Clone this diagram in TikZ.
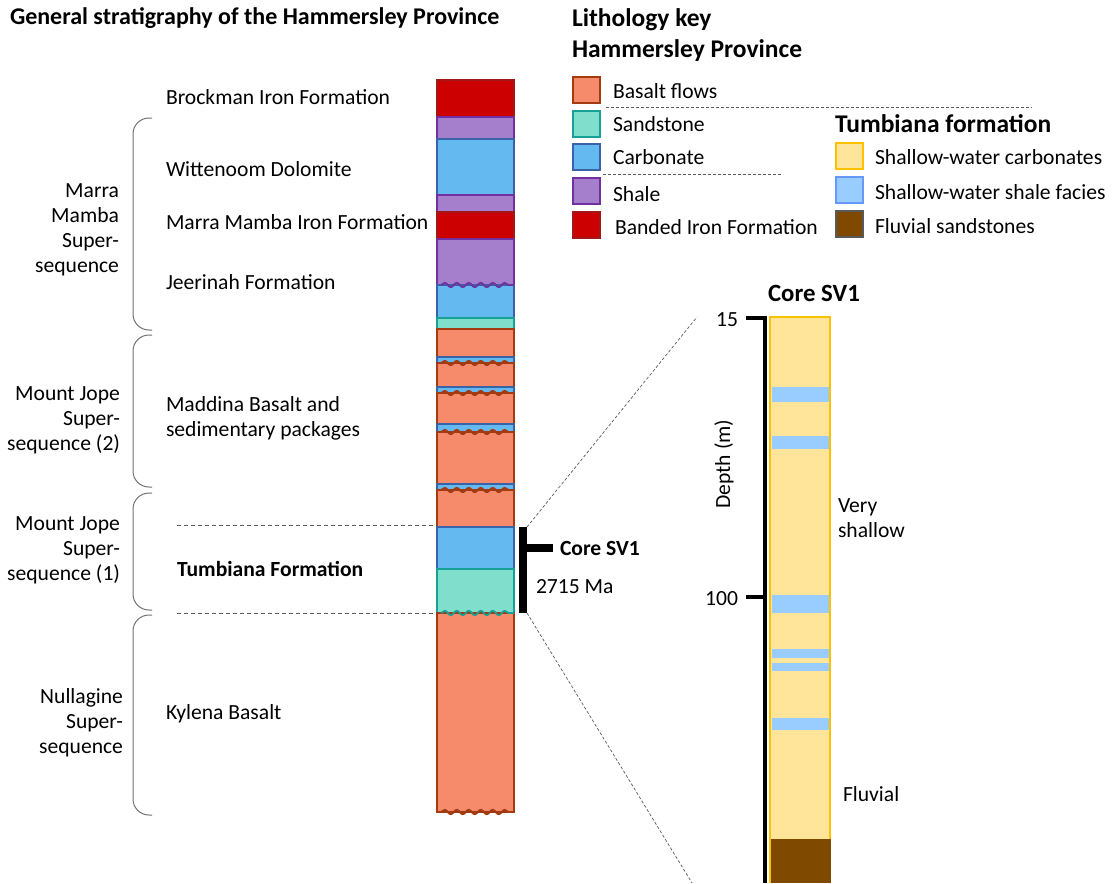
\documentclass[tikz,border=0pt]{standalone}
\usepackage{fontspec}
\setmainfont{Carlito}
\usetikzlibrary{decorations.pathmorphing}
\definecolor{basF}{HTML}{F58B6B}
\definecolor{basD}{HTML}{A33A12}
\definecolor{sanF}{HTML}{80DFCC}
\definecolor{sanD}{HTML}{17A095}
\definecolor{carF}{HTML}{64B9F0}
\definecolor{carD}{HTML}{3A62A6}
\definecolor{shaF}{HTML}{A67FCC}
\definecolor{shaD}{HTML}{70309F}
\definecolor{bifF}{HTML}{CC0000}
\definecolor{bifD}{HTML}{A01818}
\definecolor{swcF}{HTML}{FFE599}
\definecolor{swcD}{HTML}{FFC000}
\definecolor{swsF}{HTML}{99CCFF}
\definecolor{swsD}{HTML}{6699FF}
\definecolor{fluF}{HTML}{7F4A00}
\definecolor{fluD}{HTML}{595959}
\definecolor{braceC}{HTML}{707070}
\newcommand\stratlayer[4]{\node[#2, anchor=north west, minimum width=77pt, minimum height={(#4-#3)*1pt}] (#1) at (437,#3) {};}
\newcommand\wavyline[2]{\draw[wavy, draw=#1] (441,#2) -- (514,#2);}
\newcommand\keybox[4]{\node[keysq, #2, anchor=north west] (#1) at (#3,#4) {};}
\tikzset{
  lay/.style={draw, inner sep=0pt, outer sep=0pt, line width=1.3pt},
  basalt/.style={lay, fill=basF, draw=basD},
  sandst/.style={lay, fill=sanF, draw=sanD},
  carb/.style={lay, fill=carF, draw=carD},
  shale/.style={lay, fill=shaF, draw=shaD},
  bif/.style={lay, fill=bifF, draw=bifD},
  swc/.style={lay, fill=swcF, draw=swcD},
  sws/.style={lay, fill=swsF, draw=swsD},
  flu/.style={lay, fill=fluF, draw=fluD},
  keysq/.style={minimum width=27pt, minimum height=26pt, line width=1.5pt},
  wavy/.style={line width=1.8pt, decorate, decoration={snake, amplitude=2.2pt, segment length=12pt}},
  txt/.style={inner sep=0pt, outer sep=0pt, font=\fontsize{21.6}{25}\selectfont},
  btxt/.style={txt, font=\fontsize{21.6}{25}\selectfont\bfseries},
  htxt/.style={txt, font=\fontsize{25.5}{30}\selectfont\bfseries},
  sbrace/.style={draw=braceC, line width=1pt, rounded corners=16pt},
  dashln/.style={draw=fluD, line width=0.9pt, dash pattern=on 4pt off 3pt},
  dotln/.style={draw=fluD, line width=0.7pt, dash pattern=on 3pt off 2pt},
  bar/.style={line width=8pt, line cap=butt},
}
\begin{document}
\begin{tikzpicture}[x=1pt, y=-1pt]
\useasboundingbox (0,0) rectangle (1113,883);
% titles
\node[htxt, font=\fontsize{24}{30}\selectfont\bfseries, anchor=west] (title) at (10,18) {General stratigraphy of the Hammersley Province};
\node[htxt, anchor=west] (lkey) at (572,20) {Lithology key};
\node[htxt, anchor=west] (hprov) at (572,51) {Hammersley Province};
% strat column
\stratlayer{bif1}{bif}{80}{117}
\stratlayer{sha1}{shale}{117}{139}
\stratlayer{car1}{carb}{139}{195}
\stratlayer{sha2}{shale}{195}{212}
\stratlayer{bif2}{bif}{212}{239}
\stratlayer{sha3}{shale}{239}{285}
\stratlayer{car2}{carb}{285}{318}
\stratlayer{san1}{sandst}{318}{329}
\stratlayer{bas1}{basalt}{329}{357}
\stratlayer{car3}{carb}{357}{363}
\stratlayer{bas2}{basalt}{363}{387}
\stratlayer{car4}{carb}{387}{393}
\stratlayer{bas3}{basalt}{393}{424}
\stratlayer{car5}{carb}{424}{432}
\stratlayer{bas4}{basalt}{432}{484}
\stratlayer{car6}{carb}{484}{490}
\stratlayer{bas5}{basalt}{490}{527}
\stratlayer{car7}{carb}{527}{569}
\stratlayer{san2}{sandst}{569}{613}
\stratlayer{bas6}{basalt}{613}{812}
\wavyline{shaD}{285}
\wavyline{basD}{363}
\wavyline{basD}{393}
\wavyline{basD}{432}
\wavyline{basD}{490}
\wavyline{sanD}{613}
\wavyline{basD}{812}
% formation labels
\node[txt, anchor=west] (brock) at (166,97) {Brockman Iron Formation};
\node[txt, anchor=west] (witt) at (166,169) {Wittenoom Dolomite};
\node[txt, anchor=west] (mmif) at (166,222) {Marra Mamba Iron Formation};
\node[txt, anchor=west] (jeer) at (166,282) {Jeerinah Formation};
\node[txt, anchor=west, align=left] (madd) at (166,418) {Maddina Basalt and\\sedimentary packages};
\node[btxt, anchor=west] (tumb) at (177,569) {Tumbiana Formation};
\node[txt, anchor=west] (kyl) at (166,714) {Kylena Basalt};
% supersequence labels
\node[txt, anchor=east, align=right] (ssmm) at (119,230) {Marra\\Mamba\\Super-\\sequence};
\node[txt, anchor=east, align=right] (ssmj2) at (120,420) {Mount Jope\\Super-\\sequence (2)};
\node[txt, anchor=east, align=right] (ssmj1) at (120,550) {Mount Jope\\Super-\\sequence (1)};
\node[txt, anchor=east, align=right] (ssnu) at (123,723) {Nullagine\\Super-\\sequence};
% braces
\draw[sbrace] (152,118) -- (133,118) -- (133,330) -- (152,330);
\draw[sbrace] (152,335) -- (133,335) -- (133,487) -- (152,487);
\draw[sbrace] (152,493) -- (133,493) -- (133,610) -- (152,610);
\draw[sbrace] (152,615) -- (133,615) -- (133,815) -- (152,815);
% Tumbiana dashed markers
\coordinate (tumtop) at (177,525);
\coordinate (tumbot) at (177,613);
\draw[dashln] (tumtop) -- (tumtop -| car7.west);
\draw[dashln] (tumbot) -- (tumbot -| san2.west);
% core bracket
\coordinate (brtop) at (523,527);
\coordinate (brbot) at (523,613);
\coordinate (brmid) at (519,548);
\coordinate (brend) at (553,548);
\draw[bar] (brtop) -- (brbot);
\draw[bar] (brmid) -- (brend);
\node[btxt, anchor=west] (corelab) at (560,548) {Core SV1};
\node[txt, anchor=west] (age) at (536,587) {2715 Ma};
% core column
\fill[swcF] (770,317) rectangle (830,883);
\node[inner sep=0pt, outer sep=0pt, minimum width=60pt, minimum height=566pt, anchor=north west] (core) at (770,317) {};
\foreach \a/\b in {387/402, 436/449, 595/613, 649/658, 663/671, 718/730}
  \fill[swsF] (771.5,\a) rectangle (828.5,\b);
\fill[fluF] (769.3,839) rectangle (830.7,883);
\draw[swcD, line width=1.4pt] (770,883) -- (770,317) -- (830,317) -- (830,839);
\draw[swcD, line width=1.4pt] (770,839) -- (770,317);
\node[htxt, font=\fontsize{24.8}{28}\selectfont\bfseries] (coretitle) at (814,293) {Core SV1};
% depth axis
\coordinate (axtop) at (765,316);
\coordinate (axbot) at (765,883);
\draw[bar, line width=4.5pt] (axtop) -- (axbot);
\coordinate (t15) at (746,318);
\coordinate (t100) at (746,597);
\draw[bar, line width=4pt] (t15) -- (767,318);
\draw[bar, line width=4pt] (t100) -- (767,597);
\node[txt, anchor=east] (l15) at (738,320) {15};
\node[txt, anchor=east] (l100) at (738,599) {100};
\node[txt, rotate=90] (depth) at (724,464) {Depth (m)};
\node[txt, anchor=west, align=left] (vshal) at (838,518) {Very\\shallow};
\node[txt, anchor=west] (fluv) at (843,794) {Fluvial};
% zoom lines
\coordinate (ztop) at (697,317);
\coordinate (zbot) at (692,883);
\draw[dotln] (527,527) -- (ztop);
\draw[dotln] (527,613) -- (zbot);
% lithology key
\keybox{kb}{basalt}{573}{77}
\keybox{ks}{sandst}{573}{111}
\keybox{kc}{carb}{573}{144}
\keybox{ksh}{shale}{573}{178}
\keybox{kbif}{bif}{573}{212}
\node[txt, anchor=west] (kbt) at (613,91) {Basalt flows};
\node[txt, anchor=west] (kst) at (613,124) {Sandstone};
\node[txt, anchor=west] (kct) at (613,157) {Carbonate};
\node[txt, anchor=west] (ksht) at (613,194) {Shale};
\node[txt, anchor=west] (kbift) at (615,227) {Banded Iron Formation};
\draw[dashln, line width=0.7pt, dash pattern=on 3pt off 2pt] (606,107) -- (1032,107);
\draw[dashln, line width=0.7pt, dash pattern=on 3pt off 2pt] (603,174) -- (783,174);
\node[htxt, anchor=west] (tkey) at (835,124) {Tumbiana formation};
\keybox{kswc}{swc}{836}{143}
\keybox{ksws}{sws}{836}{177}
\keybox{kflu}{flu}{836}{211}
\node[txt, anchor=west] (kswct) at (875,157) {Shallow-water carbonates};
\node[txt, anchor=west] (kswst) at (875,192) {Shallow-water shale facies};
\node[txt, anchor=west] (kflut) at (875,226) {Fluvial sandstones};
\end{tikzpicture}
\end{document}
